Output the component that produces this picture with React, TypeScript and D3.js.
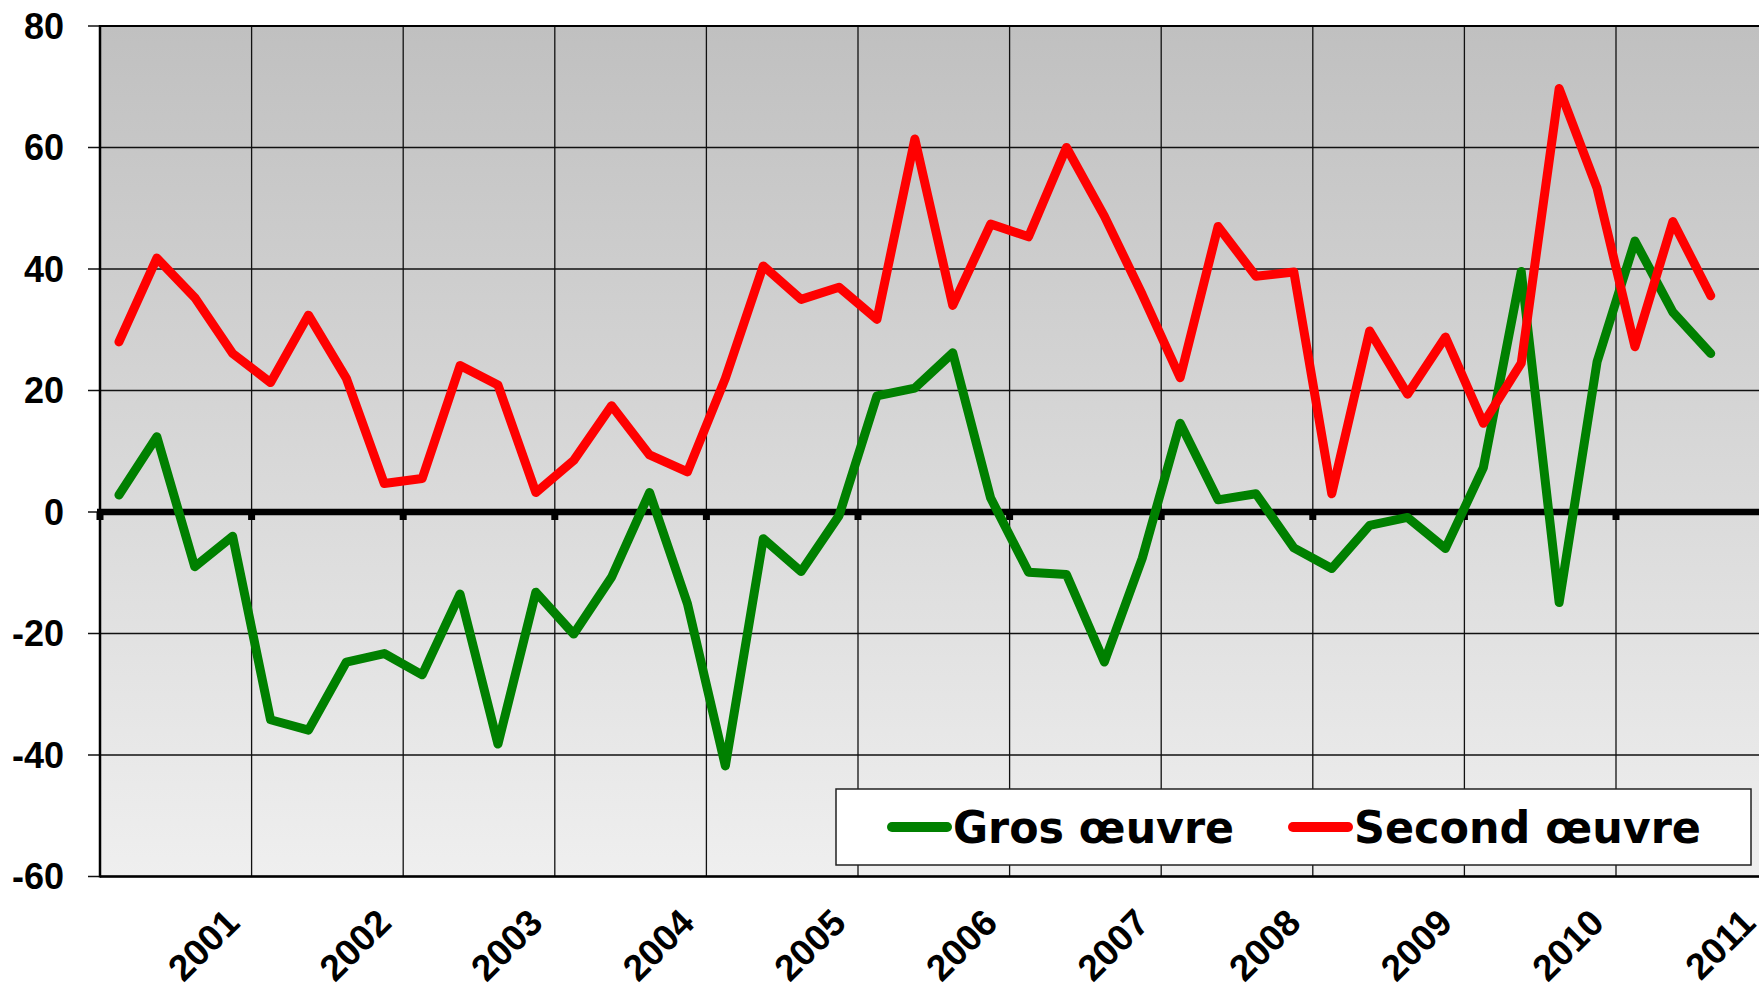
import * as d3 from "d3";

// quarterly balances, 43 quarters (first year label is 2001)
const grosOeuvre = [
  2.8, 12.4, -9.0, -4.0, -34.2, -35.9, -24.7, -23.3, -26.8, -13.5, -38.2,
  -13.2, -20.1, -10.7, 3.2, -15.1, -41.8, -4.4, -9.8, -0.6, 19.1, 20.4, 26.2,
  2.3, -9.9, -10.3, -24.7, -7.6, 14.6, 2.0, 3.0, -5.9, -9.3, -2.2, -0.9, -6.0,
  7.3, 39.6, -14.9, 24.7, 44.6, 32.9, 26.1,
];
const secondOeuvre = [
  28.0, 41.8, 35.3, 26.1, 21.3, 32.4, 22.0, 4.7, 5.5, 24.1, 20.9, 3.2, 8.5,
  17.5, 9.4, 6.6, 22.0, 40.5, 35.0, 37.0, 31.7, 61.4, 34.0, 47.4, 45.3, 60.0,
  48.7, 35.8, 22.1, 47.0, 38.8, 39.5, 3.0, 29.8, 19.4, 28.8, 14.6, 24.5, 69.7,
  53.3, 27.2, 47.8, 35.6,
];
const years = ["2001", "2002", "2003", "2004", "2005", "2006", "2007", "2008", "2009", "2010", "2011"];
const yTicks = [80, 60, 40, 20, 0, -20, -40, -60];
const seriesNames = ["Gros œuvre", "Second œuvre"];
const seriesColors = ["#008000", "#ff0000"];

const W = 1759;
const H = 985;
const left = 100;
const top = 26;
const bottom = 876.5;
const quarterW = 37.9;
const nQuarters = years.length * 4;

export default function App() {
  const x = d3.scaleLinear().domain([0, nQuarters]).range([left, left + nQuarters * quarterW]);
  const y = d3.scaleLinear().domain([-60, 80]).range([bottom, top]);
  const right = x(nQuarters);

  const line = d3
    .line<number>()
    .x((_, i) => x(i + 0.5))
    .y((d) => y(d));

  const font = "'Liberation Sans', Arial, sans-serif";

  return (
    <>
      <style>{"body{margin:0}"}</style>
      <svg width={W} height={H} style={{ display: "block", background: "#fff" }}>
        <defs>
          <linearGradient id="bg" x1="0" y1="0" x2="0" y2="1">
            <stop offset="0%" stopColor="#c0c0c0" />
            <stop offset="100%" stopColor="#efefef" />
          </linearGradient>
        </defs>
        <rect x={left} y={top} width={right - left} height={bottom - top} fill="url(#bg)" />

        {/* horizontal gridlines + y ticks */}
        {yTicks.map((t) => (
          <g key={t}>
            <line x1={left} x2={right} y1={y(t)} y2={y(t)} stroke="#111" strokeWidth={1.3} />
            <line x1={88} x2={left} y1={y(t)} y2={y(t)} stroke="#111" strokeWidth={1.5} />
            <text
              x={64}
              y={y(t)}
              dy="0.36em"
              textAnchor="end"
              fontFamily={font}
              fontWeight="bold"
              fontSize={36}
            >
              {t}
            </text>
          </g>
        ))}

        {/* vertical gridlines at year boundaries */}
        {years.map((yr, k) => (
          <line
            key={yr}
            x1={x((k + 1) * 4)}
            x2={x((k + 1) * 4)}
            y1={top}
            y2={bottom}
            stroke="#111"
            strokeWidth={1.3}
          />
        ))}

        {/* plot border */}
        <line x1={left} x2={left} y1={top - 1} y2={bottom + 1} stroke="#000" strokeWidth={2.5} />
        <line x1={left} x2={right} y1={top} y2={top} stroke="#000" strokeWidth={2} />
        <line x1={left} x2={right} y1={bottom} y2={bottom} stroke="#000" strokeWidth={2.5} />

        {/* category axis at zero */}
        <line x1={left - 3} x2={right} y1={y(0)} y2={y(0)} stroke="#000" strokeWidth={6.5} />
        {d3.range(0, nQuarters + 1, 4).map((q) => (
          <rect key={q} x={x(q) - 3.5} y={y(0)} width={7} height={8} fill="#000" />
        ))}

        {/* year labels */}
        {years.map((yr, k) => (
          <text
            key={yr}
            transform={`translate(${x((k + 1) * 4) - 10},925) rotate(-45)`}
            textAnchor="end"
            fontFamily={font}
            fontWeight="bold"
            fontSize={37}
          >
            {yr}
          </text>
        ))}

        {/* series */}
        {[grosOeuvre, secondOeuvre].map((s, j) => (
          <path
            key={j}
            d={line(s) ?? ""}
            fill="none"
            stroke={seriesColors[j]}
            strokeWidth={9}
            strokeLinejoin="round"
            strokeLinecap="round"
          />
        ))}

        {/* legend */}
        <g>
          <rect x={836} y={789} width={915} height={76} fill="#fff" stroke="#222" strokeWidth={1.5} />
          {seriesNames.map((name, j) => {
            const lx = j === 0 ? 892 : 1293;
            return (
              <g key={name}>
                <line
                  x1={lx}
                  x2={lx + 55}
                  y1={827}
                  y2={827}
                  stroke={seriesColors[j]}
                  strokeWidth={10}
                  strokeLinecap="round"
                />
                <text
                  x={lx + 61}
                  y={843}
                  fontFamily="'DejaVu Sans', Verdana, sans-serif"
                  fontWeight="bold"
                  fontSize={44}
                  textLength={j === 0 ? 281 : 347}
                  lengthAdjust="spacingAndGlyphs"
                >
                  {name}
                </text>
              </g>
            );
          })}
        </g>
      </svg>
    </>
  );
}
